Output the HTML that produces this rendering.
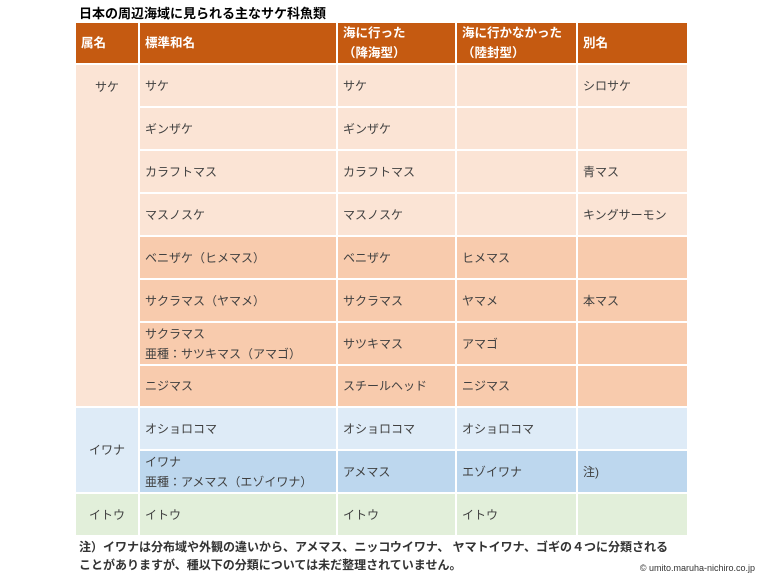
<!DOCTYPE html>
<html><head><meta charset="utf-8"><style>
body{margin:0;width:760px;height:579px;background:#fff;font-family:"Liberation Sans","Noto Sans CJK JP",sans-serif;position:relative;overflow:hidden}
.t{position:absolute;left:79px;top:3px;font-size:13px;font-weight:bold;color:#000}
table{position:absolute;left:74px;top:21px;border-collapse:collapse;font-size:12px;color:#404040;table-layout:fixed}
td{border:2px solid #fff;padding:0 0 0 5px;vertical-align:middle;line-height:20px}
.h td{background:#c55a11;color:#fff;font-weight:bold;font-size:12.5px;height:37px}
.a{background:#fbe4d5}.b{background:#f8cbad}.c{background:#deebf7}.d{background:#bdd7ee}.e{background:#e2efda}
.g{text-align:center;padding:0}
.n{position:absolute;left:79px;top:538px;font-size:12px;font-weight:bold;color:#333;line-height:18px}
.cp{position:absolute;right:5px;top:563px;font-size:9px;color:#333}
</style></head><body>
<div class="t">日本の周辺海域に見られる主なサケ科魚類</div>
<table>
<colgroup><col style="width:64px"><col style="width:198px"><col style="width:119px"><col style="width:121px"><col style="width:111px"></colgroup>
<tr class="h"><td>属名</td><td>標準和名</td><td>海に行った<br>（降海型）</td><td>海に行かなかった<br>（陸封型）</td><td>別名</td></tr>
<tr style="height:43px"><td class="a g" rowspan="8" style="vertical-align:top;padding-top:12px">サケ</td><td class="a">サケ</td><td class="a">サケ</td><td class="a"></td><td class="a">シロサケ</td></tr>
<tr style="height:43px"><td class="a">ギンザケ</td><td class="a">ギンザケ</td><td class="a"></td><td class="a"></td></tr>
<tr style="height:43px"><td class="a">カラフトマス</td><td class="a">カラフトマス</td><td class="a"></td><td class="a">青マス</td></tr>
<tr style="height:43px"><td class="a">マスノスケ</td><td class="a">マスノスケ</td><td class="a"></td><td class="a">キングサーモン</td></tr>
<tr style="height:43px"><td class="b">ベニザケ（ヒメマス）</td><td class="b">ベニザケ</td><td class="b">ヒメマス</td><td class="b"></td></tr>
<tr style="height:43px"><td class="b">サクラマス（ヤマメ）</td><td class="b">サクラマス</td><td class="b">ヤマメ</td><td class="b">本マス</td></tr>
<tr style="height:43px"><td class="b">サクラマス<br>亜種：サツキマス（アマゴ）</td><td class="b">サツキマス</td><td class="b">アマゴ</td><td class="b"></td></tr>
<tr style="height:42px"><td class="b">ニジマス</td><td class="b">スチールヘッド</td><td class="b">ニジマス</td><td class="b"></td></tr>
<tr style="height:43px"><td class="c g" rowspan="2">イワナ</td><td class="c">オショロコマ</td><td class="c">オショロコマ</td><td class="c">オショロコマ</td><td class="c"></td></tr>
<tr style="height:43px"><td class="d">イワナ<br>亜種：アメマス（エゾイワナ）</td><td class="d">アメマス</td><td class="d">エゾイワナ</td><td class="d">注)</td></tr>
<tr style="height:43px"><td class="e g">イトウ</td><td class="e">イトウ</td><td class="e">イトウ</td><td class="e">イトウ</td><td class="e"></td></tr>
</table>
<div class="n">注）イワナは分布域や外観の違いから、アメマス、ニッコウイワナ、 ヤマトイワナ、ゴギの４つに分類される<br>ことがありますが、種以下の分類については未だ整理されていません。</div>
<div class="cp">© umito.maruha-nichiro.co.jp</div>
</body></html>
